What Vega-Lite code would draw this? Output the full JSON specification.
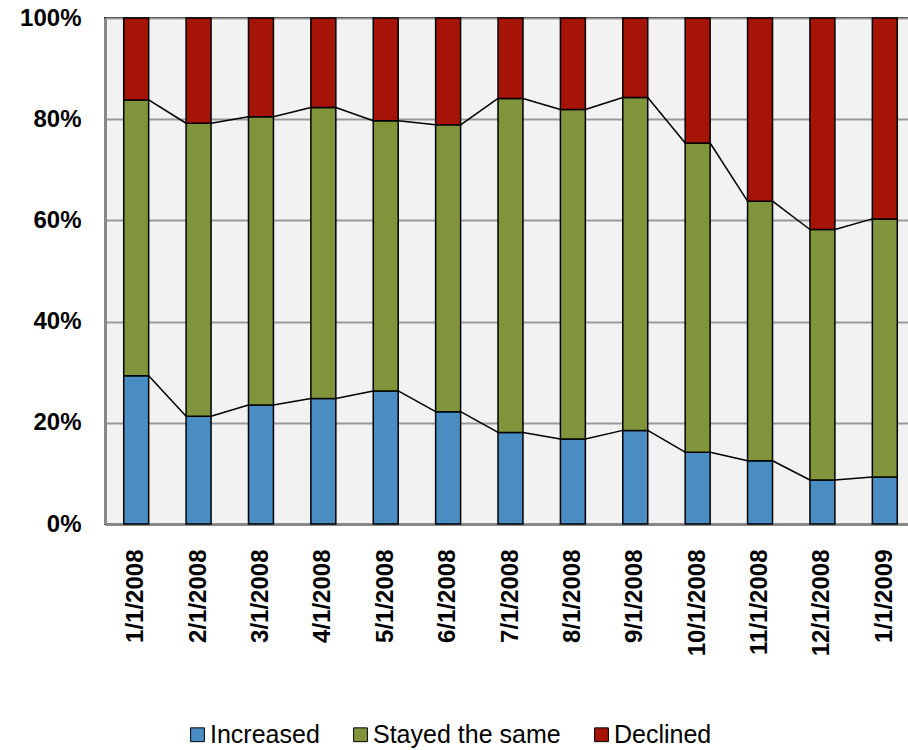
{
  "$schema": "https://vega.github.io/schema/vega-lite/v6.json",
  "autosize": {"type": "none"},
  "width": 811,
  "height": 506,
  "padding": {"left": 105, "top": 18, "right": 0, "bottom": 226},
  "background": "white",
  "config": {
    "view": {"fill": "#f2f2f2", "stroke": "#1a1a1a", "strokeWidth": 2},
    "font": "Liberation Sans",
    "axis": {
      "labelFont": "Liberation Sans",
      "labelFontWeight": "bold",
      "labelColor": "black",
      "ticks": false,
      "domainColor": "#888888",
      "domainWidth": 3,
      "title": null
    }
  },
  "datasets": {
    "seriesOrder": [
      {"series": "Increased", "rank": 1},
      {"series": "Stayed the same", "rank": 2},
      {"series": "Declined", "rank": 3}
    ],
    "survey": [
      {"month": "2008-01-01", "series": "Increased", "value": 29.3},
      {"month": "2008-01-01", "series": "Stayed the same", "value": 54.5},
      {"month": "2008-01-01", "series": "Declined", "value": 16.2},
      {"month": "2008-02-01", "series": "Increased", "value": 21.3},
      {"month": "2008-02-01", "series": "Stayed the same", "value": 57.9},
      {"month": "2008-02-01", "series": "Declined", "value": 20.8},
      {"month": "2008-03-01", "series": "Increased", "value": 23.5},
      {"month": "2008-03-01", "series": "Stayed the same", "value": 57.0},
      {"month": "2008-03-01", "series": "Declined", "value": 19.5},
      {"month": "2008-04-01", "series": "Increased", "value": 24.8},
      {"month": "2008-04-01", "series": "Stayed the same", "value": 57.5},
      {"month": "2008-04-01", "series": "Declined", "value": 17.7},
      {"month": "2008-05-01", "series": "Increased", "value": 26.3},
      {"month": "2008-05-01", "series": "Stayed the same", "value": 53.4},
      {"month": "2008-05-01", "series": "Declined", "value": 20.3},
      {"month": "2008-06-01", "series": "Increased", "value": 22.2},
      {"month": "2008-06-01", "series": "Stayed the same", "value": 56.7},
      {"month": "2008-06-01", "series": "Declined", "value": 21.1},
      {"month": "2008-07-01", "series": "Increased", "value": 18.1},
      {"month": "2008-07-01", "series": "Stayed the same", "value": 66.0},
      {"month": "2008-07-01", "series": "Declined", "value": 15.9},
      {"month": "2008-08-01", "series": "Increased", "value": 16.8},
      {"month": "2008-08-01", "series": "Stayed the same", "value": 65.1},
      {"month": "2008-08-01", "series": "Declined", "value": 18.1},
      {"month": "2008-09-01", "series": "Increased", "value": 18.5},
      {"month": "2008-09-01", "series": "Stayed the same", "value": 65.8},
      {"month": "2008-09-01", "series": "Declined", "value": 15.7},
      {"month": "2008-10-01", "series": "Increased", "value": 14.2},
      {"month": "2008-10-01", "series": "Stayed the same", "value": 61.1},
      {"month": "2008-10-01", "series": "Declined", "value": 24.7},
      {"month": "2008-11-01", "series": "Increased", "value": 12.5},
      {"month": "2008-11-01", "series": "Stayed the same", "value": 51.3},
      {"month": "2008-11-01", "series": "Declined", "value": 36.2},
      {"month": "2008-12-01", "series": "Increased", "value": 8.7},
      {"month": "2008-12-01", "series": "Stayed the same", "value": 49.5},
      {"month": "2008-12-01", "series": "Declined", "value": 41.8},
      {"month": "2009-01-01", "series": "Increased", "value": 9.3},
      {"month": "2009-01-01", "series": "Stayed the same", "value": 51.0},
      {"month": "2009-01-01", "series": "Declined", "value": 39.7}
    ]
  },
  "data": {"name": "survey"},
  "transform": [
    {"lookup": "series", "from": {"data": {"name": "seriesOrder"}, "key": "series", "fields": ["rank"]}},
    {"stack": "value", "groupby": ["month"], "sort": [{"field": "rank", "order": "ascending"}], "as": ["v0", "v1"]},
    {
      "window": [
        {"op": "lead", "field": "v1", "as": "nextV1"},
        {"op": "lead", "field": "month", "as": "nextMonth"}
      ],
      "groupby": ["series"],
      "sort": [{"field": "month", "order": "ascending"}]
    }
  ],
  "encoding": {
    "x": {
      "field": "month",
      "type": "nominal",
      "scale": {"paddingInner": 0.6, "paddingOuter": 0.3},
      "axis": {
        "labelAngle": -90,
        "labelFontSize": 24,
        "labelPadding": 25,
        "labelExpr": "utcFormat(toDate(datum.value), '%-m/%-d/%Y')"
      }
    }
  },
  "layer": [
    {
      "mark": {"type": "bar", "stroke": "black", "strokeWidth": 1.5},
      "encoding": {
        "y": {
          "field": "v0",
          "type": "quantitative",
          "scale": {"domain": [0, 100], "nice": false},
          "axis": {
            "values": [0, 20, 40, 60, 80, 100],
            "labelExpr": "datum.value + '%'",
            "labelFontSize": 24,
            "labelPadding": 24,
            "grid": true,
            "gridColor": "#999999",
            "gridWidth": 2
          }
        },
        "y2": {"field": "v1"},
        "color": {
          "field": "series",
          "type": "nominal",
          "scale": {
            "domain": ["Increased", "Stayed the same", "Declined"],
            "range": ["#4a8dc3", "#80943c", "#a61307"]
          },
          "legend": {
            "title": null,
            "orient": "none",
            "direction": "horizontal",
            "legendX": 80,
            "legendY": 704,
            "symbolType": "square",
            "symbolSize": 190,
            "symbolStrokeColor": "black",
            "symbolStrokeWidth": 1,
            "symbolOpacity": 1,
            "labelFont": "Liberation Sans",
            "labelFontSize": 25,
            "labelColor": "black",
            "labelLimit": 0,
            "labelOffset": 0,
            "columnPadding": 28
          }
        }
      }
    },
    {
      "transform": [
        {"filter": "datum.series !== 'Declined' && datum.nextMonth != null"}
      ],
      "mark": {"type": "rule", "color": "black", "strokeWidth": 1.5},
      "encoding": {
        "x": {"field": "month", "type": "nominal", "bandPosition": 1},
        "x2": {"field": "nextMonth", "bandPosition": 0},
        "y": {"field": "v1", "type": "quantitative"},
        "y2": {"field": "nextV1"}
      }
    }
  ]
}
